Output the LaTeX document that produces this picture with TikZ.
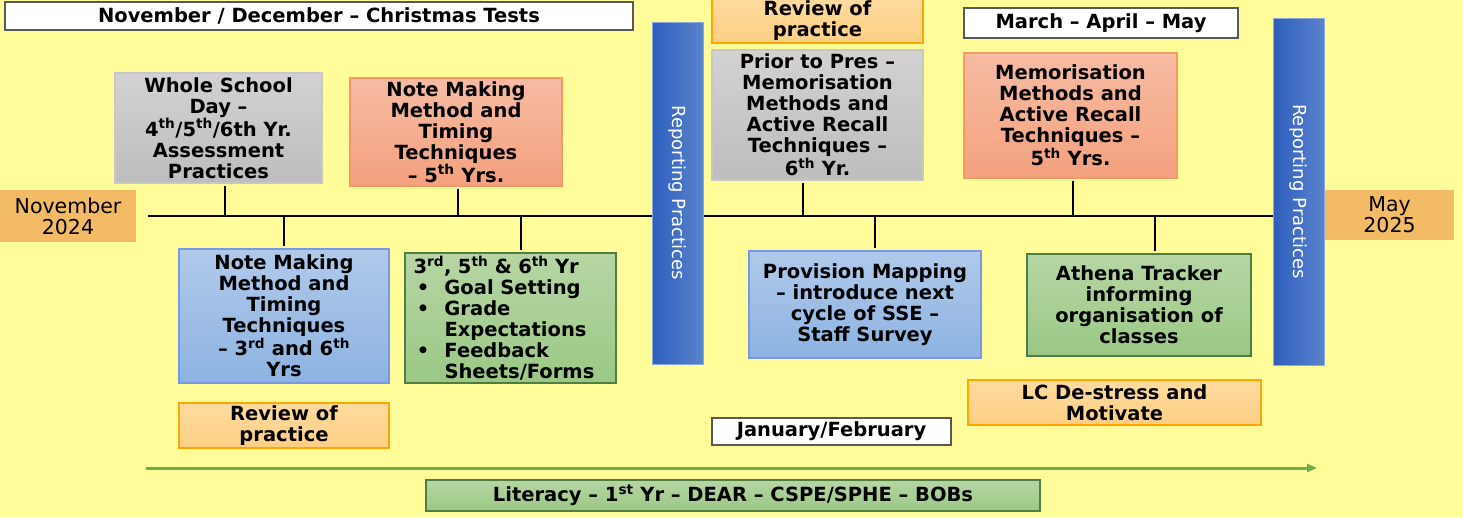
\documentclass[tikz,border=0pt]{standalone}
\usepackage{fontspec}
\setmainfont{DejaVu Sans}
\usepackage{graphicx}
\usetikzlibrary{arrows.meta}
\definecolor{bgyellow}{HTML}{FFFC99}
\definecolor{greytop}{HTML}{D2D2D2}
\definecolor{greybot}{HTML}{BDBDBD}
\definecolor{salmontop}{HTML}{F6BCA3}
\definecolor{salmonbot}{HTML}{F4A17E}
\definecolor{bluetop}{HTML}{B0C9EA}
\definecolor{bluebot}{HTML}{8DB3E2}
\definecolor{greentop}{HTML}{B6D6A4}
\definecolor{greenbot}{HTML}{9BC885}
\definecolor{peachtop}{HTML}{FEDB9E}
\definecolor{peachbot}{HTML}{FECF84}
\definecolor{monthorange}{HTML}{F4BB66}
\definecolor{barleft}{HTML}{2E5EBE}
\definecolor{barright}{HTML}{5A83CC}
\definecolor{arrowgreen}{HTML}{70AD47}
\tikzset{box/.style = {draw, line width=1.3pt, inner sep=0, align=center,
                       font=\fontsize{19.5}{21}\selectfont\bfseries}}
\tikzset{greybox/.style = {box, draw=greybot!85!white, top color=greytop, bottom color=greybot}}
\tikzset{salmonbox/.style = {box, draw=salmonbot!80!orange, top color=salmontop, bottom color=salmonbot}}
\tikzset{bluebox/.style = {box, draw=bluebot!85!blue, top color=bluetop, bottom color=bluebot}}
\tikzset{greenbox/.style = {box, draw=greenbot!85!green!60!black, top color=greentop, bottom color=greenbot}}
\tikzset{peachbox/.style = {box, draw=orange!70!yellow, top color=peachtop, bottom color=peachbot}}
\tikzset{whitebox/.style = {box, draw=black!65, fill=white}}
\tikzset{monthbox/.style = {draw=none, fill=monthorange, inner sep=0, align=center,
                            font=\fontsize{20.5}{21}\selectfont}}
\tikzset{reportbar/.style = {draw=barright!70!white, line width=1pt, left color=barleft, right color=barright,
                             inner sep=0, text=white, font=\fontsize{18}{20}\selectfont}}
\tikzset{tick/.style = {line width=2pt}}
\newcommand{\bul}{\makebox[31pt][l]{\,\textbullet}}

\begin{document}
\begin{tikzpicture}[x=1pt, y=-1pt]
    \fill [bgyellow] (0, 0) rectangle (1463, 517);
    \useasboundingbox (0, 0) rectangle (1463, 517);

    % above the line
    \node [whitebox, minimum width=628, minimum height=28] (xmas) at (319, 16) {November / December – Christmas Tests};
    \node [greybox, minimum width=207, minimum height=110] (whole) at (218.5, 128)
        {Whole School\\Day –\\4\textsuperscript{th}/5\textsuperscript{th}/6th Yr.\\Assessment\\Practices};
    \node [salmonbox, minimum width=212, minimum height=108] (notes5) at (456, 132)
        {Note Making\\Method and\\Timing\\Techniques\\– 5\textsuperscript{th} Yrs.};
    \node [peachbox, minimum width=211, minimum height=45] (review2) at (817.5, 20.5) {Review of\\practice};
    \node [greybox, minimum width=211, minimum height=130] (prior) at (817.5, 115)
        {Prior to Pres –\\Memorisation\\Methods and\\Active Recall\\Techniques –\\6\textsuperscript{th} Yr.};
    \node [whitebox, minimum width=274, minimum height=30] (spring) at (1101, 23) {March – April – May};
    \node [salmonbox, minimum width=213, minimum height=125] (memo5) at (1070.5, 115.5)
        {Memorisation\\Methods and\\Active Recall\\Techniques –\\5\textsuperscript{th} Yrs.};

    % months
    \node [monthbox, minimum width=136, minimum height=52] (nov) at (68, 216) {November\\2024};
    \node [monthbox, minimum width=129, minimum height=50] (may) at (1389.5, 215) {May\\2025};

    % below the line
    \node [bluebox, minimum width=210, minimum height=134] (notes36) at (284, 316)
        {Note Making\\Method and\\Timing\\Techniques\\– 3\textsuperscript{rd} and 6\textsuperscript{th}\\Yrs};
    \node [greenbox, minimum width=211, minimum height=130, text width=194, align=left] (goals) at (510.5, 318)
        {3\textsuperscript{rd}, 5\textsuperscript{th} \& 6\textsuperscript{th} Yr\\
         \bul Goal Setting\\
         \bul Grade\\
         \hspace*{31pt}Expectations\\
         \bul Feedback\\
         \hspace*{31pt}Sheets/Forms};
    \node [peachbox, minimum width=210, minimum height=45] (review1) at (284, 425.5) {Review of\\practice};
    \node [bluebox, minimum width=232, minimum height=107] (prov) at (865, 304.5)
        {Provision Mapping\\– introduce next\\cycle of SSE –\\Staff Survey};
    \node [greenbox, minimum width=224, minimum height=102] (athena) at (1139, 305)
        {Athena Tracker\\informing\\organisation of\\classes};
    \node [peachbox, minimum width=293, minimum height=45] (destress) at (1114.5, 402.5) {LC De-stress and\\Motivate};
    \node [whitebox, minimum width=239, minimum height=27] (janfeb) at (831.5, 431.5) {January/February};
    \node [greenbox, minimum width=614, minimum height=31] (literacy) at (733, 495.5)
        {Literacy – 1\textsuperscript{st} Yr – DEAR – CSPE/SPHE – BOBs};

    % timeline
    \node [reportbar, minimum width=51, minimum height=347] (report2) at (1298.5, 191.5)
        {\rotatebox{-90}{Reporting Practices}};
    \coordinate (tl-start) at (148, 216);
    \draw [line width=2.8pt] (tl-start) -- (tl-start -| report2.west);
    \node [reportbar, minimum width=51, minimum height=342] (report1) at (677.5, 193)
        {\rotatebox{-90}{Reporting Practices}};

    \foreach \n/\dx in {whole/6, notes5/2, prior/-15, memo5/2} {
      \path (\n.south) ++(\dx, 2) coordinate (t-\n);
      \draw [tick] (t-\n) -- (t-\n |- tl-start);
    }
    \foreach \n/\dx in {notes36/0, goals/10, prov/10, athena/16} {
      \path (\n.north) ++(\dx, -2) coordinate (b-\n);
      \draw [tick] (b-\n) -- (b-\n |- tl-start);
    }

    % green arrow
    \coordinate (arr-start) at (146, 468);
    \coordinate (arr-end) at (1317, 468);
    \draw [arrowgreen, line width=3pt, -{Triangle[length=10pt, width=8pt]}] (arr-start) -- (arr-end);
  \end{tikzpicture}
\end{document}
